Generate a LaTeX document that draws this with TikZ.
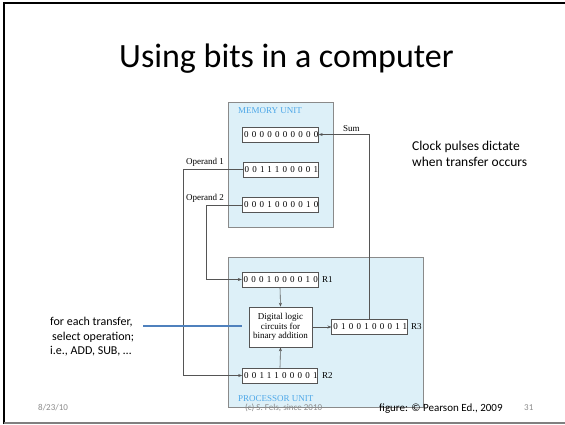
\documentclass[tikz,border=0pt]{standalone}
\usepackage{fontspec}
\setmainfont{Carlito}
\newfontfamily\figfont{Liberation Serif}
\newfontfamily\regfont[LetterSpace=36]{Liberation Serif}
\usetikzlibrary{arrows.meta}
\definecolor{unitfill}{HTML}{DDF0F8}
\definecolor{unitline}{HTML}{8A8A8A}
\definecolor{unitlabel}{HTML}{4FA8E8}
\definecolor{wireclr}{HTML}{555555}
\definecolor{noteblue}{HTML}{4F81BD}
\definecolor{footgray}{HTML}{8C8C8C}
\begin{document}
\begin{tikzpicture}[x=1pt,y=-1pt,
  unitbox/.style={draw=unitline,fill=unitfill,line width=0.8pt},
  regbox/.style={draw=wireclr,fill=white,line width=0.6pt,minimum width=75pt,minimum height=15pt,inner sep=0pt,font=\regfont\fontsize{9}{10}\selectfont,execute at begin node={\kern1.6pt}},
  lbl/.style={inner sep=0pt,font=\figfont\fontsize{9}{10}\selectfont},
  unitname/.style={inner sep=0pt,anchor=west,text=unitlabel,font=\figfont\fontsize{9}{10}\selectfont},
  wire/.style={draw=wireclr,line width=0.6pt},
  arr/.style={wire,-{Stealth[length=4pt,width=3pt]}},
  slidetxt/.style={inner sep=0pt,align=left,font=\fontsize{12}{14.5}\selectfont},
  foot/.style={inner sep=0pt,text=footgray,font=\fontsize{9}{10}\selectfont}]
\useasboundingbox (0,0) rectangle (565,424);
\fill[white] (0,0) rectangle (565,424);
% slide frame
\draw[black,line width=2pt] (4,424) -- (4,3) -- (565,3);
\draw[gray,line width=1.5pt] (4,423) -- (565,423);
% title
\node[inner sep=0pt,anchor=base,font=\fontsize{34}{40}\selectfont] (title) at (286.5,67) {Using bits in a computer};
% units
\draw[unitbox] (228,102) rectangle (333,227);
\node[unitname] (memlbl) at (238,111) {MEMORY UNIT};
\draw[unitbox] (228,257) rectangle (423,407);
\node[unitname] (proclbl) at (238,399) {PROCESSOR UNIT};
% memory registers
\node[regbox] (m1) at (280.5,134.5) {0000000000};
\node[regbox] (m2) at (280.5,169.5) {0011100001};
\node[regbox] (m3) at (280.5,205) {0001000010};
% processor registers
\node[regbox] (r1) at (280,279.5) {0001000010};
\node[regbox] (r2) at (280,375.5) {0011100001};
\node[regbox] (r3) at (369.5,327) {0100100011};
\node[lbl,anchor=west] (r1l) at (322,279.5) {R1};
\node[lbl,anchor=west] (r2l) at (322,375.5) {R2};
\node[lbl,anchor=west] (r3l) at (411,327) {R3};
% logic
\node[draw=wireclr,fill=white,line width=0.6pt,minimum width=63pt,minimum height=40pt,inner sep=0pt,align=center,font=\figfont\fontsize{9}{9.4}\selectfont] (logic) at (280.5,327) {Digital logic\\circuits for\\binary addition};
% labels
\node[lbl,anchor=base west] (op1) at (186,164) {Operand 1};
\node[lbl,anchor=base west] (op2) at (186,200) {Operand 2};
\node[lbl,anchor=base west] (sum) at (343,131) {Sum};
% wires
\coordinate (c1) at (183,169.5);
\coordinate (c2) at (206,205);
\coordinate (c3) at (369.5,134.5);
\draw[arr] (m2.west) -- (c1) |- (r2.west);
\draw[arr] (m3.west) -- (c2) |- (r1.west);
\draw[arr] (r1.south) -- (logic.north);
\draw[arr] (r2.north) -- (logic.south);
\draw[arr] (logic.east) -- (r3.west);
\draw[arr] (r3.north) -- (c3) -- (m1.east);
% slide notes
\node[inner sep=0pt,align=left,anchor=north west,font=\fontsize{13.5}{16}\selectfont] (clock) at (412,141) {Clock pulses dictate\\when transfer occurs};
\node[slidetxt,anchor=north west] (note) at (50,317) {for each transfer,\\ \,select operation;\\i.e., ADD, SUB, \ldots};
\coordinate (bl) at (143,326);
\coordinate (br) at (242,326);
\draw[noteblue,line width=2pt] (bl) -- (br);
% footer
\node[foot,anchor=base west] (date) at (38,410) {8/23/10};
\node[foot,anchor=base west] (copy) at (245,410) {(c) S. Fels, since 2010};
\node[inner sep=0pt,anchor=base west,font=\fontsize{11}{12}\selectfont] (fig) at (379,411) {figure: © Pearson Ed., 2009};
\node[foot,anchor=base west] (pg) at (524,410) {31};
\end{tikzpicture}
\end{document}
